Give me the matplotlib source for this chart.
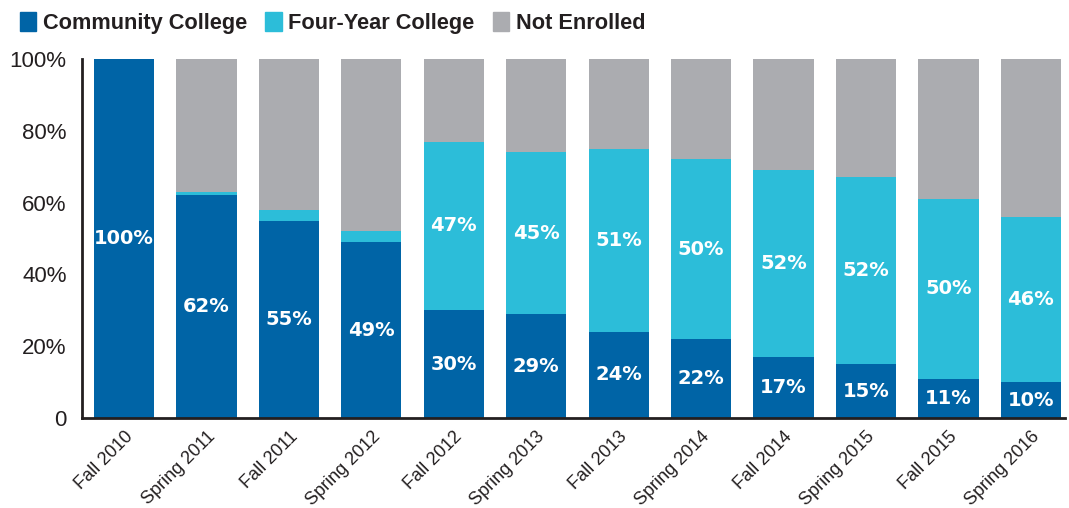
import numpy as np
import matplotlib.pyplot as plt
from matplotlib.patches import Patch

plt.rcParams['font.family'] = ['Liberation Sans', 'DejaVu Sans']

# Semester und Anteile (in Prozent)
terms = ['Fall 2010', 'Spring 2011', 'Fall 2011', 'Spring 2012', 'Fall 2012',
         'Spring 2013', 'Fall 2013', 'Spring 2014', 'Fall 2014', 'Spring 2015',
         'Fall 2015', 'Spring 2016']
community = [100, 62, 55, 49, 30, 29, 24, 22, 17, 15, 11, 10]
four_year = [0, 1, 3, 3, 47, 45, 51, 50, 52, 52, 50, 46]
not_enrolled = [100 - c - f for c, f in zip(community, four_year)]

# welche Werte beschriftet werden
label_cc = [True] * 12
label_fy = [False, False, False, False] + [True] * 8

yticks = [0, 20, 40, 60, 80, 100]
ytick_labels = ['0', '20%', '40%', '60%', '80%', '100%']

c_cc = '#0064a6'
c_fy = '#2cbdd9'
c_ne = '#abacb0'

fig = plt.figure(figsize=(10.69, 5.08), dpi=100)
ax = fig.add_axes([0.0767, 0.177, 0.9193, 0.707])

x = np.arange(len(terms))
w = 0.73
cc = np.array(community)
fy = np.array(four_year)
ne = np.array(not_enrolled)

ax.bar(x, cc, w, color=c_cc)
ax.bar(x, fy, w, bottom=cc, color=c_fy)
ax.bar(x, ne, w, bottom=cc + fy, color=c_ne)

# Beschriftung in den Balken, etwas breitere Schrift
lbl = dict(ha='center', va='center', color='white', fontsize=14,
           fontweight='bold', family='DejaVu Sans')
for i in range(len(terms)):
    if label_cc[i]:
        ax.text(x[i], cc[i] / 2, f'{cc[i]}%', **lbl)
    if label_fy[i]:
        ax.text(x[i], cc[i] + fy[i] / 2, f'{fy[i]}%', **lbl)

ax.set_xlim(-0.51, len(terms) - 1 + 0.41)
ax.set_ylim(0, 100)
ax.set_yticks(yticks)
ax.set_yticklabels(ytick_labels, fontsize=16, color='#231f20')
ax.set_xticks(x)
ax.set_xticklabels(terms, rotation=45, ha='right', rotation_mode='anchor',
                   fontsize=13, color='#231f20')
ax.tick_params(axis='y', length=0, pad=11)
ax.tick_params(axis='x', length=0, pad=7)

for s in ['top', 'right']:
    ax.spines[s].set_visible(False)
for s in ['left', 'bottom']:
    ax.spines[s].set_linewidth(2)
    ax.spines[s].set_color('#231f20')

handles = [Patch(color=c_cc, label='Community College'),
           Patch(color=c_fy, label='Four-Year College'),
           Patch(color=c_ne, label='Not Enrolled')]
fig.legend(handles=handles, loc='upper left', bbox_to_anchor=(0.0, 1.015),
           ncol=3, frameon=False, handlelength=0.75, handleheight=0.95,
           handletextpad=0.3, columnspacing=0.85,
           prop={'size': 15.7, 'weight': 'bold'}, labelcolor='#231f20')

plt.savefig('out.png', dpi=100)
